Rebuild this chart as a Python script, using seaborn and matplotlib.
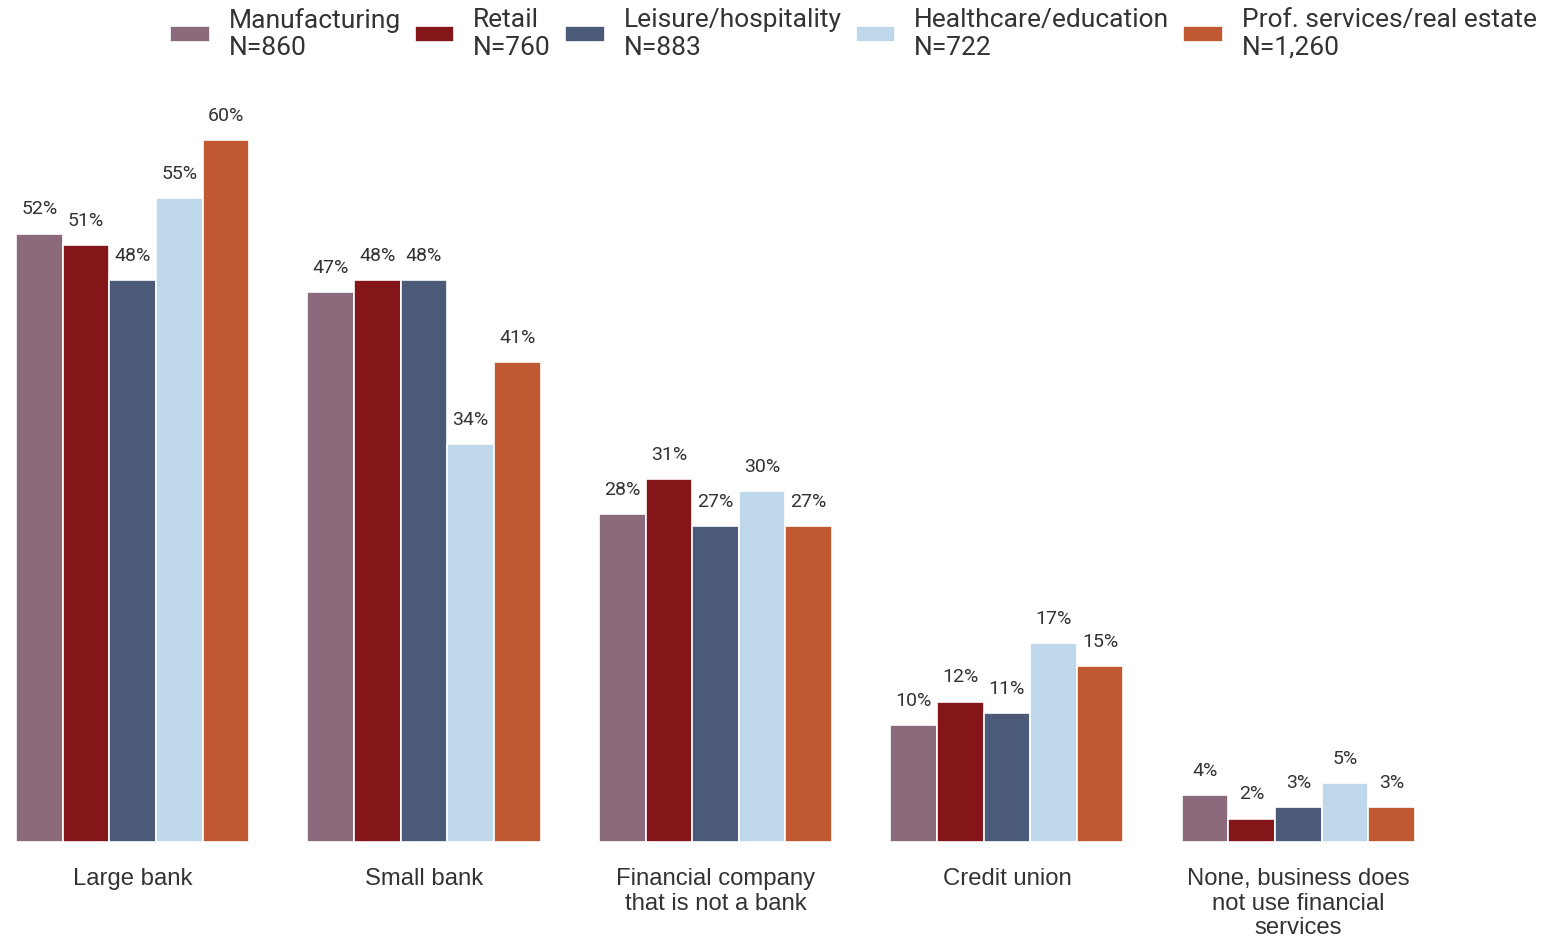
import pandas as pd
import matplotlib.pyplot as plt
import seaborn as sns

categories = ["Large bank", "Small bank", "Financial company\nthat is not a bank",
              "Credit union", "None, business does\nnot use financial\nservices"]
industries = ["Manufacturing\nN=860", "Retail\nN=760", "Leisure/hospitality\nN=883",
              "Healthcare/education\nN=722", "Prof. services/real estate\nN=1,260"]
colors = ["#8B6A7B", "#84161A", "#4A5A78", "#BFD7EB", "#C05831"]

manufacturing = [52, 47, 28, 10, 4]
retail = [51, 48, 31, 12, 2]
leisure = [48, 48, 27, 11, 3]
healthcare = [55, 34, 30, 17, 5]
prof_services = [60, 41, 27, 15, 3]

series = [manufacturing, retail, leisure, healthcare, prof_services]
rows = []
for ind, vals in zip(industries, series):
    for cat, v in zip(categories, vals):
        rows.append({"Category": cat, "Industry": ind, "Share": v})
df = pd.DataFrame(rows)

sns.set_style("white")
plt.rcParams['font.family'] = ['Roboto', 'DejaVu Sans']

fig = plt.figure(figsize=(15.53, 9.40), dpi=100)
ax = fig.add_axes([0.0103, 0.1043, 0.9008, 0.7468])

sns.barplot(data=df, x="Category", y="Share", hue="Industry", order=categories,
            hue_order=industries, palette=colors, width=0.8, edgecolor="white",
            linewidth=1.2, saturation=1, ax=ax)

for cont in ax.containers:
    ax.bar_label(cont, labels=[f"{v:.0f}%" for v in cont.datavalues],
                 padding=11, fontsize=14, color="#333333", clip_on=False)

ax.set_xlim(-0.4, 4.4)
ax.set_ylim(0, 60)
ax.set_xlabel("")
ax.set_ylabel("")
ax.set_yticks([])
ax.tick_params(axis="x", length=0, pad=19)
for lab in ax.get_xticklabels():
    lab.set_fontfamily("Liberation Sans")
    lab.set_fontsize(17.2)
    lab.set_color("#333333")
    lab.set_linespacing(1.15)
    lab.set_verticalalignment("top")
sns.despine(left=True, bottom=True)

ax.legend(loc="center left", ncol=5, frameon=False, fontsize=19, handlelength=1.5,
          handleheight=0.55, handletextpad=0.72, columnspacing=0.53,
          borderaxespad=0, borderpad=0, labelspacing=0.3, labelcolor="#333333")
leg = ax.get_legend()
leg.set_bbox_to_anchor((170 / 1553, 1 - 34 / 940), transform=fig.transFigure)

fig.savefig("out.png", dpi=100)
